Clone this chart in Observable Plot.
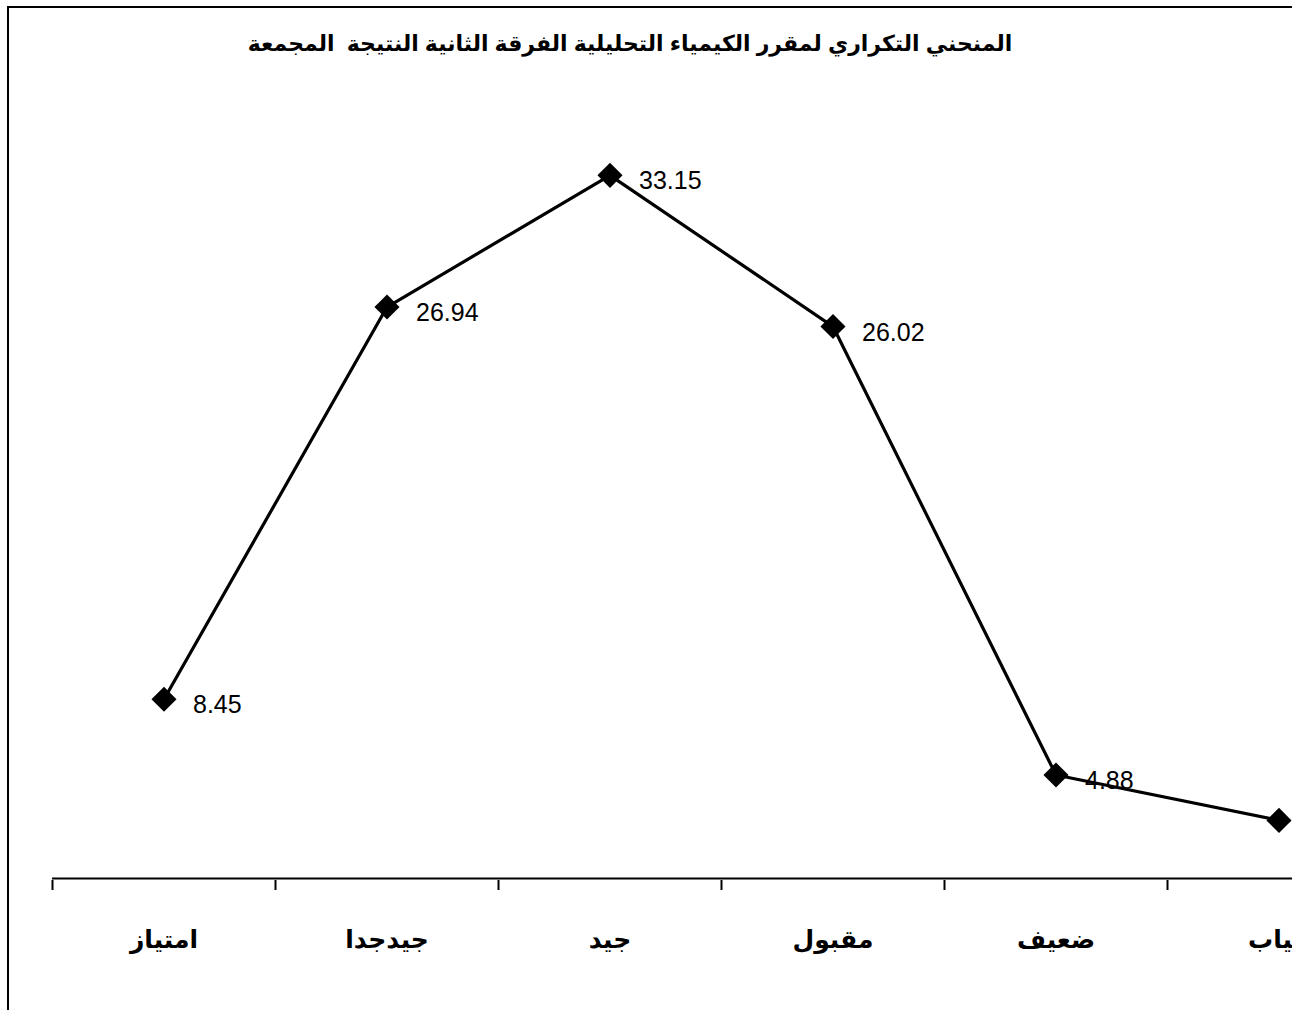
<!DOCTYPE html>
<html>
<head>
<meta charset="utf-8">
<script src="https://cdn.jsdelivr.net/npm/d3@7"></script>
<script src="https://cdn.jsdelivr.net/npm/@observablehq/plot@0.6"></script>
<style>
  html, body { margin: 0; padding: 0; background: #fff; overflow: hidden; }
  #wrap { position: relative; width: 1292px; height: 1010px; overflow: hidden; }
  #frame { position: absolute; left: 7px; top: 6px; width: 1400px; height: 1100px;
           border-left: 2px solid #000; border-top: 2px solid #000; box-sizing: border-box; }
  #title { position: absolute; left: 0; top: 31px; width: 1260px; text-align: center;
           direction: rtl; white-space: pre; font-family: Arial, "Liberation Sans", "DejaVu Sans", sans-serif;
           font-weight: bold; font-size: 22px; color: #000; }
  #chart { position: absolute; left: 0; top: 0; }
</style>
</head>
<body>
<div id="wrap">
  <div id="chart"></div>
  <div id="frame"></div>
  <div id="title">المنحني التكراري لمقرر الكيمياء التحليلية الفرقة الثانية النتيجة  المجمعة</div>
</div>
<script>
const categories = ["امتياز", "جيدجدا", "جيد", "مقبول", "ضعيف", "غياب"];
const values = [8.45, 26.94, 33.15, 26.02, 4.88, 2.74];

const data = categories.map((c, i) => ({category: c, value: values[i]}));

const fontFamily = 'Arial, "Liberation Sans", "DejaVu Sans", sans-serif';

const chart = Plot.plot({
  width: 1292,
  height: 1010,
  marginLeft: 52,
  marginRight: 0,
  marginTop: 100,
  marginBottom: 130,
  style: {fontFamily, overflow: "hidden", background: "transparent"},
  x: {type: "band", domain: categories, range: [52, 1390], padding: 0, axis: null},
  y: {domain: [0, 35], range: [878, 135.6], axis: null},
  marks: [
    Plot.ruleY([0], {stroke: "#000", strokeWidth: 2, y: 0}),
    Plot.axisX({anchor: "bottom", tickSize: 10, tickFormat: null, label: null, dx: -111.5, stroke: "#000", strokeWidth: 2, strokeOpacity: 1}),
    Plot.axisX({anchor: "bottom", tickSize: 0, tickPadding: 50, label: null, fontSize: 25, fontWeight: "bold", fill: "#000"}),
    Plot.line(data, {x: "category", y: "value", stroke: "#000", strokeWidth: 3.2}),
    Plot.dot(data, {x: "category", y: "value", symbol: "diamond2", r: 11.3, fill: "#000", stroke: "none"}),
    Plot.text(data, {x: "category", y: "value", text: d => d.value.toFixed(2), dx: 29, dy: 6, textAnchor: "start", fontSize: 25, fill: "#000"})
  ]
});
document.getElementById("chart").appendChild(chart);
</script>
</body>
</html>
